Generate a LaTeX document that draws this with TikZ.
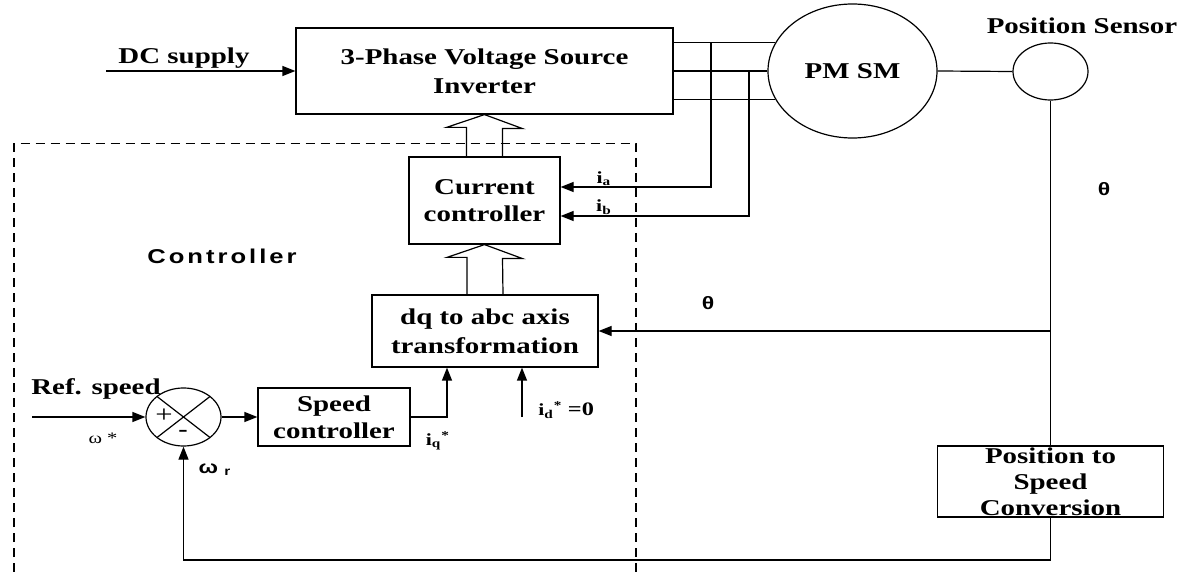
\documentclass[tikz,border=0pt]{standalone}
\usepackage{fontspec}
\setmainfont{Liberation Serif}[FakeStretch=1.28]
\newfontfamily\lsans{Liberation Sans}[FakeStretch=1.28]
\usetikzlibrary{shapes.geometric,arrows.meta,calc}

\begin{document}
\begin{tikzpicture}[
  x=0.5pt, y=-0.5pt,
  blk/.style={draw, line width=0.6pt, inner sep=0pt, align=center,
    font=\bfseries\fontsize{11.3}{13.6}\selectfont},
  oval/.style={draw, ellipse, line width=0.6pt, inner sep=0pt,
    font=\bfseries\fontsize{11.3}{13.6}\selectfont},
  arr/.style={-{Triangle[length=6.5pt,width=5pt]}, line width=0.6pt},
  wire/.style={line width=0.6pt},
  hollow/.style={line width=0.6pt, line join=miter},
  frame/.style={line width=0.6pt, dash pattern=on 4.5pt off 3pt},
  lbl/.style={inner sep=0pt, font=\bfseries\fontsize{11.3}{13.6}\selectfont},
  sml/.style={inner sep=0pt, font=\bfseries\fontsize{8.5}{10}\selectfont},
  thl/.style={inner sep=0pt, font=\lsans\bfseries\fontsize{9}{10}\selectfont}
]
\useasboundingbox (0,0) rectangle (1184,572);

% power stage
\node[blk, minimum width=188.5pt, minimum height=43pt, font=\bfseries\fontsize{11.3}{14.5}\selectfont]
  (inv) at (484.5,71) {3-Phase Voltage Source\\Inverter};
\node[oval, minimum width=84.5pt, minimum height=67pt] (motor) at (852.5,71) {PM SM};
\node[oval, minimum width=37.5pt, minimum height=28.5pt] (sensor) at (1050.5,71.5) {};
\node[lbl] (poslbl) at (1082,26) {Position Sensor};

\coordinate (dcin) at (106,71);
\draw[arr] (dcin) -- (inv.west);
\node[lbl] (dclbl) at (184,58) {DC supply};

\draw[wire] (inv.east |- motor.160) -- (motor.160);
\draw[wire] (inv.east) -- (motor.west);
\draw[wire] (inv.east |- motor.200) -- (motor.200);
\draw[wire] (motor.east) -- (sensor.west);

% controller
\draw[frame] (14,572) -- (14,143.5) -- (636,143.5) -- (636,572);
\node[inner sep=0pt, font={\lsans\bfseries\fontsize{10}{12}\selectfont\addfontfeature{LetterSpace=15}}]
  (ctrllbl) at (222,256) {Controller};

\node[blk, minimum width=75.5pt, minimum height=43.5pt] (cur) at (484.5,200.5) {Current\\controller};
\node[blk, minimum width=113pt, minimum height=36pt, font=\bfseries\fontsize{11.3}{14.5}\selectfont]
  (dq) at (485,331) {dq to abc axis\\transformation};
\node[blk, minimum width=76pt, minimum height=29pt] (spd) at (334,417) {Speed\\controller};
\node[oval, minimum width=37.5pt, minimum height=29pt] (sum) at (183.5,417) {};
\node[blk, minimum width=113pt, minimum height=35.5pt, font=\bfseries\fontsize{11.3}{13}\selectfont]
  (conv) at (1050.5,481.5) {Position to\\Speed\\Conversion};

% wide arrows
\draw[hollow] ([xshift=-9pt]cur.north) -- ++(0,-29) -- ++(-20,0) -- (inv.south)
  -- ++(38,14) -- ++(-20,0) -- ([xshift=9pt]cur.north);
\draw[hollow] ([xshift=-9pt]dq.north) -- ++(0,-37) -- ++(-20,0) -- (cur.south)
  -- ++(38,14) -- ++(-20,0) -- ([xshift=9pt]dq.north);

% current feedback
\coordinate (ja) at (711,43);
\coordinate (jb) at (749,71);
\draw[arr] (ja) |- ([yshift=6.75pt]cur.east);
\draw[arr] (jb) |- ([yshift=-7.75pt]cur.east);
\node[sml] (ialbl) at (604,179) {i\textsubscript{a}};
\node[sml] (iblbl) at (604,207) {i\textsubscript{b}};

% position and speed feedback
\coordinate (tp) at (1050.5,331);
\coordinate (fb) at (1050.5,560);
\draw[wire] (sensor.south) -- (conv.north);
\draw[arr] (tp) -- (dq.east);
\draw[arr] (conv.south) -- (fb) -| (sum.south);
\node[thl] (th1) at (1104,189) {θ};
\node[thl] (th2) at (708,303) {θ};

% speed loop
\coordinate (refin) at (32,417);
\draw[arr] (refin) -- (sum.west);
\draw[wire] ($(sum.center)+(-26.5,-20.5)$) -- ($(sum.center)+(26.5,20.5)$);
\draw[wire] ($(sum.center)+(26.5,-20.5)$) -- ($(sum.center)+(-26.5,20.5)$);
\node[inner sep=0pt, font=\fontsize{12}{13}\selectfont] (plus) at (164,416) {+};
\node[inner sep=0pt, font=\bfseries\fontsize{11}{12}\selectfont] (minus) at (183,433) {-};
\draw[arr] (sum.east) -- (spd.west);
\draw[arr] (spd.east) -| ([xshift=-19pt]dq.south);
\coordinate (idin) at (522,417);
\draw[arr] (idin) -- (idin |- dq.south);

\node[lbl] (reflbl) at (96,389) {Ref. speed};
\node[inner sep=0pt, font=\fontsize{8}{9}\selectfont] (wslbl) at (103,438) {ω *};
\node[inner sep=0pt, font=\lsans\bfseries\fontsize{9}{10}\selectfont] (wrlbl) at (215,470) {ω \textsubscript{r}};
\node[sml] (iqlbl) at (438,441) {i\textsubscript{q}\textsuperscript{*}};
\node[sml, anchor=west] (idlbl) at (538,410) {i\textsubscript{d}\textsuperscript{*}\ {\fontsize{9.5}{10}\selectfont =0}};

\end{tikzpicture}
\end{document}
